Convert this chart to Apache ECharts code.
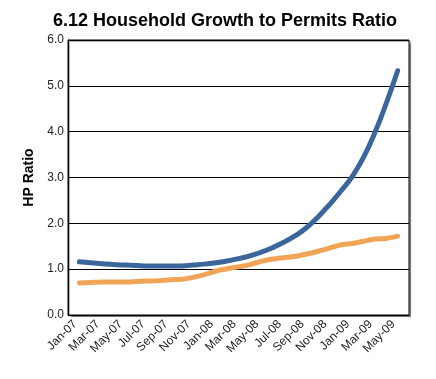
<!DOCTYPE html>
<html>
<head>
<meta charset="utf-8">
<script src="https://cdn.jsdelivr.net/npm/echarts@6/dist/echarts.min.js"></script>
<style>
  html, body { margin: 0; padding: 0; background: #fff; }
  #chart { width: 436px; height: 379px; }
</style>
</head>
<body>
<div id="chart"></div>
<script>
// Monthly categories, Jan-07 through May-09
const months = [
  'Jan-07','Feb-07','Mar-07','Apr-07','May-07','Jun-07','Jul-07','Aug-07','Sep-07','Oct-07','Nov-07','Dec-07',
  'Jan-08','Feb-08','Mar-08','Apr-08','May-08','Jun-08','Jul-08','Aug-08','Sep-08','Oct-08','Nov-08','Dec-08',
  'Jan-09','Feb-09','Mar-09','Apr-09','May-09'
];

// Household growth to permits ratio (blue series)
const hpRatioA = [
  1.16, 1.14, 1.12, 1.10, 1.09, 1.08, 1.07, 1.07, 1.07, 1.07, 1.09, 1.11,
  1.14, 1.18, 1.23, 1.29, 1.37, 1.47, 1.59, 1.73, 1.91, 2.14, 2.41, 2.70,
  3.02, 3.44, 3.98, 4.62, 5.33
];

// Second ratio series (orange)
const hpRatioB = [
  0.70, 0.71, 0.72, 0.72, 0.72, 0.73, 0.74, 0.75, 0.77, 0.78, 0.82, 0.88,
  0.96, 1.01, 1.05, 1.10, 1.17, 1.22, 1.25, 1.28, 1.33, 1.39, 1.46, 1.53,
  1.56, 1.61, 1.66, 1.67, 1.72
];

const yTicks = { min: 0, max: 6, interval: 1 };

// Pad the category axis by one empty slot on each side so the lines sit inside the frame
const axisCats = [''].concat(months, ['']);
const pad = arr => [null].concat(arr, [null]);

const FONT = 'Liberation Sans, Arial, sans-serif';

const chart = echarts.init(document.getElementById('chart'), null, { renderer: 'canvas' });

chart.setOption({
  animation: false,
  backgroundColor: '#fff',
  title: {
    text: '6.12 Household Growth to Permits Ratio',
    left: 220,
    top: 7,
    textAlign: 'center',
    textStyle: { fontFamily: FONT, fontWeight: 'bold', fontSize: 18, color: '#000' }
  },
  grid: {
    left: 68, top: 40, right: 27, bottom: 64,
    show: true,
    borderColor: '#000',
    borderWidth: 1,
    backgroundColor: '#fff',
    shadowColor: 'rgba(0,0,0,0.35)',
    shadowBlur: 1,
    shadowOffsetX: 1.5,
    shadowOffsetY: 1.5
  },
  xAxis: {
    type: 'category',
    data: axisCats,
    boundaryGap: false,
    axisLine: { show: true, lineStyle: { color: '#000', width: 1 } },
    axisTick: { show: false },
    splitLine: { show: false },
    axisLabel: {
      rotate: 45,
      interval: (idx) => idx % 2 === 1,
      margin: 3,
      padding: [0, 6, 0, 0],
      fontFamily: FONT,
      fontSize: 12,
      color: '#222'
    }
  },
  yAxis: {
    type: 'value',
    min: yTicks.min,
    max: yTicks.max,
    interval: yTicks.interval,
    name: 'HP Ratio',
    nameLocation: 'middle',
    nameGap: 29,
    nameRotate: 90,
    nameTextStyle: { fontFamily: FONT, fontWeight: 'bold', fontSize: 14, color: '#000' },
    axisLine: { show: true, lineStyle: { color: '#000', width: 1 } },
    axisTick: { show: false },
    splitLine: { show: true, lineStyle: { color: '#000', width: 1 } },
    axisLabel: {
      formatter: v => v.toFixed(1),
      margin: 4,
      fontFamily: FONT,
      fontSize: 12,
      color: '#222'
    }
  },
  series: [
    {
      name: 'Household Growth / Permits',
      type: 'line',
      data: pad(hpRatioA),
      smooth: true,
      showSymbol: false,
      lineStyle: { color: '#3b669c', width: 5, cap: 'round', join: 'round' },
      itemStyle: { color: '#3b669c' },
      z: 3
    },
    {
      name: 'Ratio B',
      type: 'line',
      data: pad(hpRatioB),
      smooth: 0.2,
      showSymbol: false,
      lineStyle: { color: '#f1a455', width: 5, cap: 'round', join: 'round' },
      itemStyle: { color: '#f1a455' },
      z: 2
    }
  ]
});
</script>
</body>
</html>
